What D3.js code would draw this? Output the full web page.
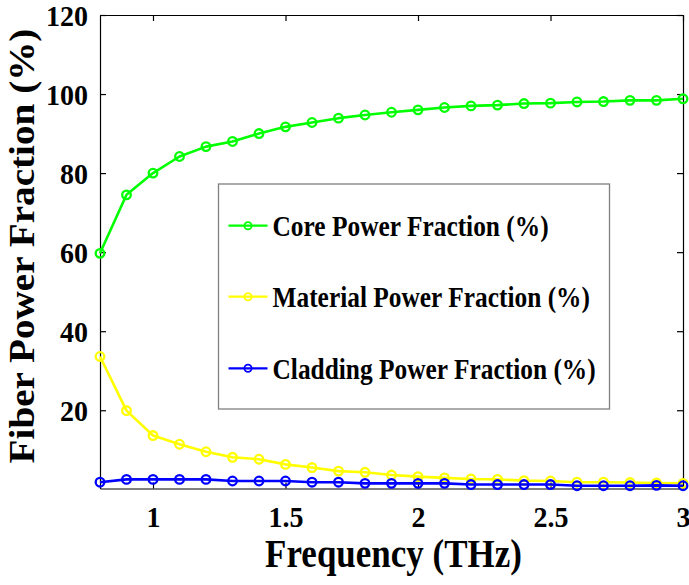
<!DOCTYPE html>
<html>
<head>
<meta charset="utf-8">
<script src="https://cdn.jsdelivr.net/npm/d3@7"></script>
<style>
  html, body { margin: 0; padding: 0; background: #fff; }
  svg { display: block; }
  text { font-family: "Liberation Serif", "Times New Roman", serif; font-weight: bold; fill: #000; }
</style>
</head>
<body>
<svg id="chart" width="689" height="585"></svg>
<script>
// Frequency samples (THz)
const frequency = [0.8, 0.9, 1.0, 1.1, 1.2, 1.3, 1.4, 1.5, 1.6, 1.7, 1.8, 1.9,
                   2.0, 2.1, 2.2, 2.3, 2.4, 2.5, 2.6, 2.7, 2.8, 2.9, 3.0];

// Power fractions (%)
const corePower = [59.7, 74.5, 80.0, 84.2, 86.7, 88.0, 90.0, 91.7, 92.8, 93.9, 94.7, 95.4,
                   96.0, 96.6, 97.0, 97.2, 97.6, 97.7, 98.0, 98.1, 98.4, 98.4, 98.8];
const materialPower = [33.6, 19.9, 13.6, 11.4, 9.5, 8.1, 7.6, 6.3, 5.5, 4.6, 4.3, 3.6,
                       3.2, 2.9, 2.6, 2.5, 2.2, 2.1, 1.8, 1.8, 1.7, 1.6, 1.5];
const claddingPower = [1.8, 2.5, 2.5, 2.5, 2.5, 2.1, 2.1, 2.1, 1.8, 1.8, 1.5, 1.5,
                       1.5, 1.5, 1.2, 1.2, 1.2, 1.2, 0.9, 0.9, 0.9, 1.0, 0.9];

const seriesNames = ["Core Power Fraction (%)", "Material Power Fraction (%)", "Cladding Power Fraction (%)"];
const seriesColors = ["#00ff00", "#ffff00", "#0000ff"];

const xTicks = [1, 1.5, 2, 2.5, 3];
const yTicks = [20, 40, 60, 80, 100, 120];

const xLabel = "Frequency (THz)";
const yLabel = "Fiber Power Fraction (%)";

const series = [corePower, materialPower, claddingPower].map((vals, i) => ({
  name: seriesNames[i],
  color: seriesColors[i],
  points: frequency.map((f, j) => ({ f, v: vals[j] }))
}));

const plot = { left: 100, right: 683, top: 15, bottom: 488.5 };
const stretch = 1.12; // glyphs are drawn slightly taller than wide

const svg = d3.select("#chart");

const x = d3.scaleLinear().domain([0.8, 3]).range([plot.left, plot.right]);
const y = d3.scaleLinear().domain([0.2, 120]).range([plot.bottom, plot.top]);

const tickLen = 6;

// Frame with inward ticks on all four sides
const bottomAxis = svg.append("g")
  .attr("transform", `translate(0,${plot.bottom})`)
  .call(d3.axisBottom(x).tickValues(xTicks).tickSizeInner(-tickLen).tickSizeOuter(0)
    .tickFormat(d3.format("")));
const leftAxis = svg.append("g")
  .attr("transform", `translate(${plot.left},0)`)
  .call(d3.axisLeft(y).tickValues(yTicks).tickSizeInner(-tickLen).tickSizeOuter(0)
    .tickFormat(d3.format("")));
const topAxis = svg.append("g")
  .attr("transform", `translate(0,${plot.top})`)
  .call(d3.axisTop(x).tickValues(xTicks).tickSizeInner(-tickLen).tickSizeOuter(0).tickFormat(""));
const rightAxis = svg.append("g")
  .attr("transform", `translate(${plot.right},0)`)
  .call(d3.axisRight(y).tickValues(yTicks).tickSizeInner(-tickLen).tickSizeOuter(0).tickFormat(""));

[bottomAxis, leftAxis, topAxis, rightAxis].forEach(g => {
  g.select(".domain").attr("stroke", "#000").attr("stroke-width", 1.2);
  g.selectAll(".tick line").attr("stroke", "#000").attr("stroke-width", 1.2);
  g.attr("font-family", null).attr("font-size", null);
});

bottomAxis.selectAll(".tick text")
  .attr("y", null).attr("dy", null)
  .attr("transform", `translate(0,38.5) scale(1,1.06)`)
  .attr("text-anchor", "middle")
  .style("font-size", "28px");

leftAxis.selectAll(".tick text")
  .attr("x", null).attr("dy", null)
  .attr("transform", `translate(-12,10.5) scale(1,1.06)`)
  .attr("text-anchor", "end")
  .style("font-size", "28px");

// Axis titles
svg.append("text")
  .attr("transform", `translate(${(plot.left + plot.right) / 2 + 2},567) scale(1,${stretch})`)
  .attr("text-anchor", "middle")
  .style("font-size", "35px")
  .text(xLabel);

svg.append("text")
  .attr("transform", `translate(34,246) rotate(-90) scale(${stretch},1)`)
  .attr("text-anchor", "middle")
  .style("font-size", "35px")
  .text(yLabel);

// Series lines and markers
const line = d3.line().x(d => x(d.f)).y(d => y(d.v));

series.forEach(s => {
  const g = svg.append("g");
  g.append("path")
    .datum(s.points)
    .attr("d", line)
    .attr("fill", "none")
    .attr("stroke", s.color)
    .attr("stroke-width", 2.6)
    .attr("stroke-linejoin", "round");
  g.selectAll("circle")
    .data(s.points)
    .join("circle")
    .attr("cx", d => x(d.f))
    .attr("cy", d => y(d.v))
    .attr("r", 4.3)
    .attr("fill", "none")
    .attr("stroke", s.color)
    .attr("stroke-width", 2.3);
});

// Legend
const legend = { x: 218.5, y: 184, w: 391, h: 225, rowY: [225.7, 296.7, 368.3] };
const lg = svg.append("g");
lg.append("rect")
  .attr("x", legend.x).attr("y", legend.y)
  .attr("width", legend.w).attr("height", legend.h)
  .attr("fill", "#fff")
  .attr("stroke", "#808080")
  .attr("stroke-width", 1.3);

series.forEach((s, i) => {
  const cy = legend.rowY[i];
  lg.append("line")
    .attr("x1", 228.5).attr("x2", 267.5)
    .attr("y1", cy).attr("y2", cy)
    .attr("stroke", s.color).attr("stroke-width", 2.2);
  lg.append("circle")
    .attr("cx", 248).attr("cy", cy).attr("r", 3.6)
    .attr("fill", "none").attr("stroke", s.color).attr("stroke-width", 1.8);
  lg.append("text")
    .attr("transform", `translate(272.5,${cy + 10.3}) scale(1,${stretch})`)
    .style("font-size", "25.4px")
    .text(s.name);
});
</script>
</body>
</html>
